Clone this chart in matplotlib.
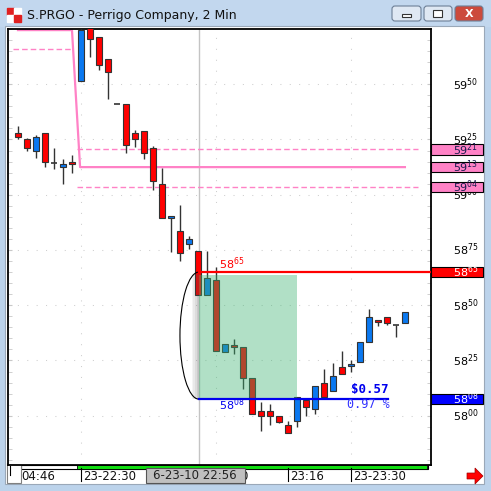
import matplotlib
matplotlib.use("Agg")
import matplotlib.pyplot as plt
import matplotlib.transforms as mtransforms
from matplotlib.patches import Rectangle, Arc, FancyBboxPatch, Polygon

# ---- data (2 min candles, S.PRGO) ----
opens = [5928, 5925, 5920, 5928, 5914.3, 5912.5, 5915, 5951.5, 5977, 5971.5,
         5961.5, 5941, 5941, 5928, 5929, 5921, 5905, 5889.5, 5883.5, 5877.5,
         5874.5, 5854.5, 5861.5, 5829, 5832, 5831, 5817, 5802, 5802, 5800,
         5796, 5797.5, 5807, 5803, 5815, 5811, 5822, 5822.5, 5824.5, 5833.5,
         5843.5, 5844.5, 5841, 5842]
highs = [5931, 5925.5, 5927, 5928, 5921, 5916, 5918, 5975, 5978, 5971.5,
         5961.5, 5941, 5941, 5929.5, 5929, 5922, 5912, 5890.5, 5895.5, 5881.5,
         5874.5, 5874.5, 5867.5, 5832.5, 5834.5, 5831, 5817, 5806, 5805.5, 5800,
         5797.5, 5808.5, 5807, 5813.5, 5821, 5824, 5829.5, 5825, 5833.5, 5848.5,
         5843.5, 5844.5, 5841, 5847]
lows = [5925, 5920, 5916.5, 5912.5, 5911.5, 5905, 5910, 5951.5, 5962.5, 5956.5,
        5943.5, 5941, 5919, 5921.5, 5916, 5902, 5889.5, 5874, 5870, 5875.5,
        5854.5, 5854.5, 5829.5, 5829, 5828, 5812, 5801, 5793, 5796, 5796.5,
        5792, 5795, 5800, 5801, 5808.5, 5811, 5819, 5820, 5824.5, 5833.5,
        5840.5, 5841, 5835.5, 5842]
closes = [5926, 5921, 5926, 5915, 5914.3, 5914, 5914, 5974.5, 5970.5, 5958.5,
          5955.5, 5941, 5922.5, 5925, 5919, 5906, 5889.5, 5890.2, 5873.5, 5880,
          5854.5, 5862.5, 5829.5, 5832.5, 5831, 5817, 5801, 5800, 5800, 5797,
          5792, 5808.5, 5804, 5813.5, 5808.5, 5818, 5819, 5823.5, 5833.5, 5844.5,
          5842.5, 5842, 5841, 5847]

# pink indicator (stepped solid line) and dashed bands
ind_x = [0, 6, 6.9, 43]
ind_y = [5974.5, 5974.5, 5912.5, 5912.5]
band_hi_x = [-0.5, 6]
band_hi = 5966
bands_x = [6.6, 44.4]
bands = [5920.6, 5903.5]

tags = ["5921", "5913", "5904"]
tag_levels = [5920.6, 5912.5, 5903.5]

price_ticks = [5800, 5825, 5850, 5875, 5900, 5925, 5950]
time_idx = [7, 30, 37]
time_labels = ["23-22:30", "23:16", "23-23:30"]
grid_idx = [7, 22, 37]

cursor_idx = 20.1
cursor_label = "6-23-10 22:56"
hi_level, lo_level = 5865, 5807.5
box_right = 31
blue_end = 41.1
gain_text = "$0.57"
pct_text = "0.97 %"

RED = "#ff0000"
BLUE = "#0a78f0"
PINK = "#ff82c6"
EDGE = "#333333"

fig = plt.figure(figsize=(4.91, 4.91), dpi=100, facecolor="#bcd3eb")

# window chrome in pixel coordinates
bg = fig.add_axes([0, 0, 1, 1], zorder=0)
bg.set_xlim(0, 491)
bg.set_ylim(491, 0)
bg.axis("off")
bg.add_patch(Rectangle((0, 0), 491, 26, color="#c2d7ee"))
bg.add_patch(Rectangle((5, 26), 479, 458, facecolor="white", edgecolor="#9aa8b8", lw=0.8))
# icon
for (ix, iy, c) in [(7, 8, "#e02020"), (14, 8, "#ffffff"), (7, 15, "#ffffff"), (14, 15, "#e02020")]:
    bg.add_patch(Rectangle((ix, iy), 7, 7, color=c))
bg.text(27, 15, "S.PRGO - Perrigo Company, 2 Min", fontsize=9, va="center", ha="left",
        color="#111111", family="DejaVu Sans")
# title buttons
for (bx, bw, fc) in [(392, 29, "#dfe8f3"), (424, 28, "#dfe8f3"), (455, 28, "#cc4a3c")]:
    bg.add_patch(FancyBboxPatch((bx, 6), bw, 15, boxstyle="round,pad=0,rounding_size=3",
                                facecolor=fc, edgecolor="#6d7f96", lw=0.8))
bg.add_patch(Rectangle((402, 14), 9, 3, facecolor="white", edgecolor="#333333", lw=0.8))
bg.add_patch(Rectangle((433, 10), 9, 7, facecolor="white", edgecolor="#333333", lw=0.8))
bg.text(469, 14, "X", fontsize=8, fontweight="bold", color="white", ha="center", va="center")

# bottom scroll bar, cursor box and arrow
bg.add_patch(Rectangle((21, 465), 407, 3.5, facecolor="white", edgecolor="black", lw=0.8))
bg.add_patch(Rectangle((77, 465), 350, 3.5, facecolor="#11dd11", edgecolor="black", lw=0.6))
bg.add_patch(Rectangle((7, 463), 14, 20, facecolor="white", edgecolor="#808080", lw=0.8))
bg.plot([10, 10], [466, 475], color="black", lw=0.8)
bg.add_patch(Polygon([(467, 473), (475, 473), (475, 468), (483, 476), (475, 484), (475, 479), (467, 479)],
                     closed=True, facecolor="#ff0000", edgecolor="#a00000", lw=0.5))
bg.text(21, 476, "04:46", fontsize=8.5, va="center", ha="left", color="#111111")

# main price chart
ax = fig.add_axes([8 / 491, 26 / 491, 423 / 491, 436 / 491], zorder=1)
ax.set_facecolor("white")
ax.set_xlim(-1.11, 45.9)
ax.set_ylim(5777.7, 5975)
for s in ax.spines.values():
    s.set_color("black")
    s.set_linewidth(1.3)

ax.set_yticks(price_ticks)
ax.set_yticks(range(5780, 5976, 5), minor=True)
ax.set_xticks(grid_idx)
ax.tick_params(which="both", labelleft=False, labelbottom=False, bottom=False,
               left=True, right=True, direction="in", length=3, color="#c8c8c8")
ax.yaxis.grid(True, color="#cfcfcf", lw=0.75, linestyle=(0, (1, 8)))
ax.xaxis.grid(True, color="#cfcfcf", lw=0.75, linestyle=(0, (1, 9.5)))
ax.set_axisbelow(True)

# cursor line
ax.axvline(cursor_idx, color="#c4c4c4", lw=1, zorder=1)

# pink indicator
ax.plot(ind_x, ind_y, color=PINK, lw=1.6, zorder=2)
ax.plot(band_hi_x, [band_hi] * 2, color=PINK, lw=1, dashes=(4, 2.2), zorder=2)
for lv in bands:
    ax.plot(bands_x, [lv] * 2, color=PINK, lw=1, dashes=(4, 2.2), zorder=2)

# candles
for i, (o, h, l, c) in enumerate(zip(opens, highs, lows, closes)):
    if h > max(o, c):
        ax.vlines(i, max(o, c), h, color=EDGE, lw=1, zorder=3)
    if l < min(o, c):
        ax.vlines(i, l, min(o, c), color=EDGE, lw=1, zorder=3)
    if abs(c - o) < 0.2:
        ax.hlines(o, i - 0.32, i + 0.32, color=EDGE, lw=1.2, zorder=4)
    else:
        ax.bar(i, abs(c - o), bottom=min(o, c), width=0.62,
               color=BLUE if c > o else RED, edgecolor=EDGE, lw=0.8, zorder=4)

# move highlight box with shadow and ellipse
for k, a in enumerate([0.06, 0.12, 0.2, 0.3]):
    ax.add_patch(Rectangle((cursor_idx - 0.8 + 0.2 * k, lo_level), 0.2, hi_level - lo_level - 1,
                           color="#505050", alpha=a, lw=0, zorder=5))
ax.add_patch(Rectangle((cursor_idx, lo_level), box_right - cursor_idx, hi_level - 1.4 - lo_level,
                       facecolor="#3cb371", alpha=0.4, lw=0, zorder=5))
ax.add_patch(Arc((cursor_idx, (hi_level + lo_level) / 2), 4.2, hi_level - lo_level,
                 theta1=90, theta2=270, color="black", lw=0.8, zorder=6))
ax.plot([cursor_idx, 45.9], [hi_level] * 2, color=RED, lw=1.6, zorder=6, clip_on=False)
ax.plot([cursor_idx, blue_end], [lo_level] * 2, color="#0000ee", lw=1.6, zorder=6)
ax.text(cursor_idx + 2.2, hi_level + 3.6, "58$^{65}$", color=RED, fontsize=8, va="center", zorder=7)
ax.text(cursor_idx + 2.2, lo_level - 2.4, "58$^{08}$", color="#0000ee", fontsize=8, va="center", zorder=7)
ax.text(41.2, lo_level + 4.3, gain_text, color="#0000ee", fontsize=9, fontweight="bold",
        family="DejaVu Sans Mono", ha="right", va="center", zorder=7)
ax.text(41.3, lo_level - 2.4, pct_text, color="#3030ff", fontsize=8.5,
        family="DejaVu Sans Mono", ha="right", va="center", zorder=7)

# right price scale and tags
ry = mtransforms.blended_transform_factory(bg.transData, ax.transData)
for p in price_ticks:
    s = str(p)
    ax.text(453, p, s[:2] + "$^{" + s[2:] + "}$", transform=ry, fontsize=8,
            va="center", ha="left", color="black", clip_on=False)
for lv, t in zip(tag_levels, tags):
    ax.add_patch(Rectangle((431, lv - 2.4), 52, 4.8, transform=ry, facecolor=PINK,
                           edgecolor="black", lw=0.8, clip_on=False, zorder=8))
    ax.text(453, lv, t[:2] + "$^{" + t[2:] + "}$", transform=ry, fontsize=8, va="center",
            ha="left", color="#1a1a50", clip_on=False, zorder=9)
for lv, t, fc in [(hi_level, "5865", RED), (lo_level, "5808", "#0000ff")]:
    ax.add_patch(Rectangle((431, lv - 2.4), 52, 4.8, transform=ry, facecolor=fc,
                           edgecolor="black", lw=0.8, clip_on=False, zorder=8))
    ax.text(453, lv, t[:2] + "$^{" + t[2:] + "}$", transform=ry, fontsize=8, va="center",
            ha="left", color="white", clip_on=False, zorder=9)

# time axis labels
tx = mtransforms.blended_transform_factory(ax.transData, bg.transData)
for i, lab in zip(time_idx, time_labels):
    ax.plot([i, i], [468, 481], transform=tx, color="black", lw=0.8, clip_on=False)
    ax.text(i + 0.2, 476, lab, transform=tx, fontsize=8.5, va="center", ha="left",
            color="#111111", clip_on=False)
ax.text(24.75, 476, "0", transform=tx, fontsize=8.5, va="center", ha="left", color="#111111", clip_on=False)
ax.add_patch(Rectangle((cursor_idx - 5.9, 468), 11, 14.5, transform=tx, facecolor="#c0c0c0",
                       edgecolor="#555555", lw=0.8, clip_on=False, zorder=8))
ax.text(cursor_idx - 0.4, 475.5, cursor_label, transform=tx, fontsize=8.5, va="center", ha="center",
        color="#222222", clip_on=False, zorder=9)

fig.savefig("out.png", dpi=100, facecolor=fig.get_facecolor())
